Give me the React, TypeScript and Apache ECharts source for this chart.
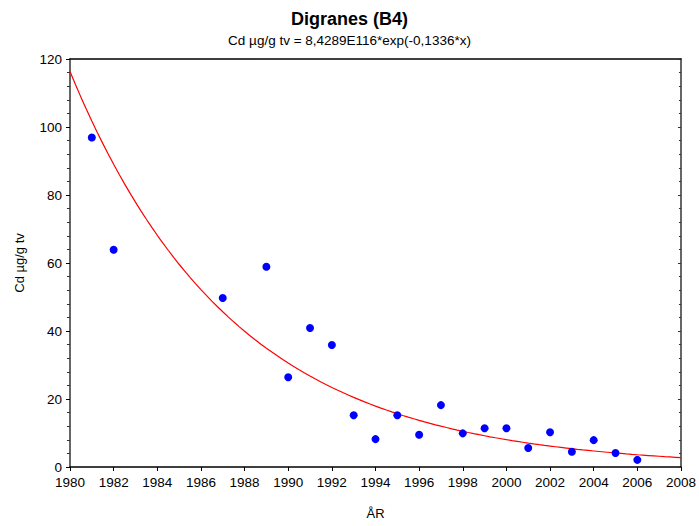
import React, { useEffect, useRef } from "react";
import * as echarts from "echarts";

const years = [1981, 1982, 1987, 1989, 1990, 1991, 1992, 1993, 1994, 1995, 1996, 1997, 1998, 1999, 2000, 2001, 2002, 2003, 2004, 2005, 2006];
const cdValues = [96.9, 63.9, 49.7, 58.9, 26.4, 40.9, 35.9, 15.2, 8.2, 15.2, 9.5, 18.2, 9.9, 11.4, 11.4, 5.6, 10.2, 4.5, 7.9, 4.1, 2.1];

// Fitted model shown in the subtitle: Cd = a*exp(-0.1336*x); a expressed relative to 1980
const FIT_A_1980 = 116.3;
const FIT_B = 0.1336;
const curveYears: number[] = [];
for (let i = 0; i <= 112; i++) curveYears.push(1980 + i * 0.25);

const titleText = "Digranes (B4)";
const subtitleText = "Cd µg/g tv = 8,4289E116*exp(-0,1336*x)";
const xName = "ÅR";
const yName = "Cd µg/g tv";

const FONT = "Liberation Sans, Arial, sans-serif";

export default function App() {
  const ref = useRef<HTMLDivElement>(null);
  useEffect(() => {
    if (!ref.current) return;
    const chart = echarts.init(ref.current, undefined, { renderer: "svg" });
    const curve = curveYears.map((x) => [x, FIT_A_1980 * Math.exp(-FIT_B * (x - 1980))]);
    const pts = years.map((y, i) => [y, cdValues[i]]);
    chart.setOption({
      animation: false,
      backgroundColor: "#ffffff",
      title: {
        text: titleText,
        subtext: subtitleText,
        left: "center",
        top: 5,
        itemGap: 5,
        textStyle: { fontFamily: FONT, fontSize: 18, fontWeight: "bold", color: "#000" },
        subtextStyle: { fontFamily: FONT, fontSize: 13.5, color: "#000" },
      },
      grid: { left: 70, right: 18, top: 59, bottom: 59, containLabel: false },
      xAxis: [
        {
          type: "value",
          min: 1980,
          max: 2008,
          interval: 2,
          name: xName,
          nameLocation: "middle",
          nameGap: 40,
          nameTextStyle: { fontFamily: FONT, fontSize: 13, color: "#000" },
          axisLine: { onZero: false, lineStyle: { color: "#000", width: 1.5 } },
          axisTick: { inside: false, length: 4, lineStyle: { color: "#000" } },
          axisLabel: {
            fontFamily: FONT,
            fontSize: 13.5,
            color: "#000",
            margin: 8,
            formatter: (v: number) => String(v),
          },
          splitLine: { show: false },
        },
        {
          type: "value",
          position: "top",
          min: 1980,
          max: 2008,
          interval: 2,
          axisLine: { onZero: false, lineStyle: { color: "#000", width: 1.5 } },
          axisTick: { show: false },
          axisLabel: { show: false },
          splitLine: { show: false },
        },
      ],
      yAxis: [
        {
          type: "value",
          min: 0,
          max: 120,
          interval: 20,
          name: yName,
          nameLocation: "middle",
          nameGap: 44,
          nameTextStyle: { fontFamily: FONT, fontSize: 13, color: "#000" },
          axisLine: { onZero: false, lineStyle: { color: "#333", width: 1.5 } },
          axisTick: { inside: false, length: 4, lineStyle: { color: "#000" } },
          minorTick: { show: true, splitNumber: 5, length: 3, lineStyle: { color: "#333" } },
          axisLabel: { fontFamily: FONT, fontSize: 13.5, color: "#000", margin: 8 },
          splitLine: { show: false },
        },
        {
          type: "value",
          position: "right",
          min: 0,
          max: 120,
          interval: 20,
          axisLine: { onZero: false, lineStyle: { color: "#333", width: 1.5 } },
          axisTick: { inside: true, length: 3, lineStyle: { color: "#333" } },
          minorTick: { show: true, splitNumber: 5, length: 2, lineStyle: { color: "#333" } },
          axisLabel: { show: false },
          splitLine: { show: false },
        },
      ],
      series: [
        {
          type: "line",
          data: curve,
          showSymbol: false,
          symbol: "none",
          lineStyle: { color: "#ff0000", width: 1.2 },
          z: 2,
        },
        {
          type: "scatter",
          data: pts,
          symbol: "circle",
          symbolSize: 8,
          itemStyle: { color: "#0000ff", opacity: 1 },
          z: 3,
        },
      ],
    });
    return () => chart.dispose();
  }, []);
  return (
    <div
      ref={ref}
      style={{ position: "fixed", left: 0, top: 0, width: 699, height: 526 }}
    />
  );
}
